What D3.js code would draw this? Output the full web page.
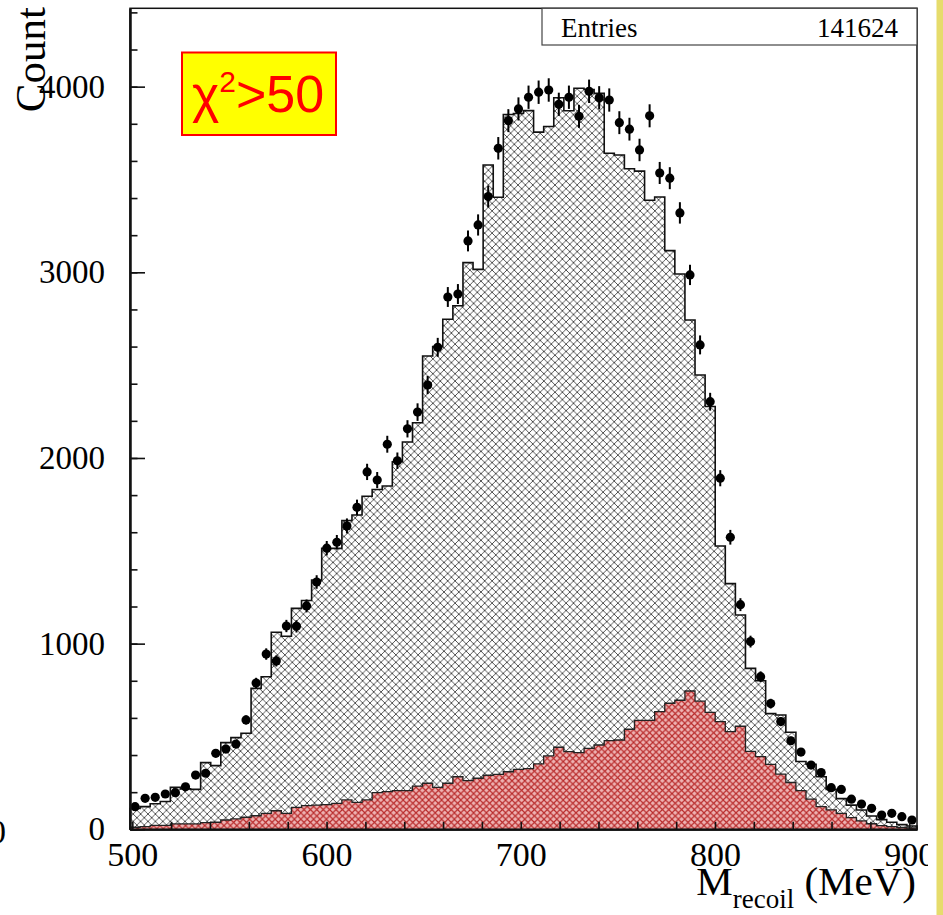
<!DOCTYPE html>
<html>
<head>
<meta charset="utf-8">
<script src="https://cdn.jsdelivr.net/npm/d3@7"></script>
<style>
  html, body { margin: 0; padding: 0; background: #ffffff; }
  svg { display: block; }
</style>
</head>
<body>
<svg id="chart" width="943" height="915"></svg>
<script>
// Recoil-mass histogram: data points vs. total MC (grey hatch) and background MC (red hatch)
const xMin = 498.8, xMax = 904.0;      // histogram range (MeV)
const nBins = 78;
const entries = 141624;

// data counts per bin
const dataCounts = [
  122, 167, 172, 190, 197, 229, 292, 302, 409, 432,
  459, 589, 788, 944, 907, 1095, 1093, 1203, 1332, 1514,
  1546, 1634, 1734, 1925, 1881, 2074, 1985, 2157, 2247, 2393,
  2596, 2867, 2883, 3169, 3255, 3408, 3668, 3817, 3880, 3943,
  3970, 3982, 3905, 3943, 3840, 3975, 3940, 3928, 3806, 3771,
  3659, 3843, 3535, 3507, 3320, 2986, 2609, 2303, 1891, 1573,
  1210, 1011, 822, 677, 580, 477, 416, 346, 306, 224,
  215, 162, 136, 113, 77, 86, 68, 50
];

// total Monte Carlo per bin
const mcTotal = [
  112, 122, 138, 150, 226, 218, 215, 359, 343, 467,
  494, 517, 759, 822, 1061, 1040, 1190, 1232, 1343, 1513,
  1513, 1663, 1693, 1794, 1830, 1849, 1980, 2086, 2190, 2549,
  2600, 2747, 2820, 3052, 3016, 3578, 3404, 3850, 3855, 3871,
  3755, 3785, 3940, 3870, 3991, 3985, 3964, 3641, 3632, 3558,
  3545, 3388, 3406, 3117, 2991, 2743, 2447, 2277, 1526, 1323,
  1154, 867, 800, 623, 616, 523, 365, 350, 283, 215,
  165, 130, 104, 72, 52, 38, 25, 18
];

// background Monte Carlo per bin
const mcBackground = [
  11, 14, 21, 21, 29, 29, 29, 36, 38, 50,
  56, 65, 73, 86, 100, 86, 118, 128, 130, 133,
  140, 158, 145, 158, 197, 203, 208, 208, 233, 248,
  226, 248, 283, 262, 275, 291, 296, 310, 323, 327,
  352, 395, 442, 418, 413, 436, 454, 478, 481, 539,
  587, 587, 634, 679, 695, 745, 690, 630, 580, 526,
  555, 420, 391, 350, 297, 252, 208, 162, 122, 105,
  86, 63, 45, 30, 20, 14, 10, 7
];

const xMajorTicks = [500, 600, 700, 800, 900];
const xMinorTicks = d3.range(500, 901, 20);
const yMajorTicks = [0, 1000, 2000, 3000, 4000];
const yMinorTicks = d3.range(0, 4401, 200);
const yMax = 4422;

const frame = { left: 130, right: 917, top: 8.3, bottom: 829.3 };
const svg = d3.select("#chart");

const x = d3.scaleLinear().domain([xMin, xMax]).range([frame.left, frame.right]);
const y = d3.scaleLinear().domain([0, yMax]).range([frame.bottom, frame.top]);

const binWidth = (xMax - xMin) / nBins;
const edges = d3.range(nBins + 1).map(i => xMin + i * binWidth);
const centers = d3.range(nBins).map(i => xMin + (i + 0.5) * binWidth);

// hatch patterns and the visible page area
const defs = svg.append("defs");
function hatch(id, bg, stroke, size, width) {
  const p = defs.append("pattern")
    .attr("id", id).attr("patternUnits", "userSpaceOnUse")
    .attr("width", size).attr("height", size);
  p.append("rect").attr("width", size).attr("height", size).attr("fill", bg);
  p.append("path")
    .attr("d", `M-1,-1L${size + 1},${size + 1}M${size + 1},-1L-1,${size + 1}`)
    .attr("stroke", stroke).attr("stroke-width", width).attr("fill", "none");
}
hatch("hatchGrey", "#ffffff", "#3a3a3a", 7.4, 0.85);
hatch("hatchRed", "#eeb2b2", "#b82a2a", 6.4, 1.15);
defs.append("clipPath").attr("id", "page")
  .append("rect").attr("x", 0).attr("y", 0).attr("width", 928).attr("height", 915);

// step geometry for a histogram
function stepPoints(vals) {
  const pts = vals.map((v, i) => [edges[i], v]);
  pts.push([edges[nBins], vals[nBins - 1]]);
  return pts;
}
const area = d3.area().curve(d3.curveStepAfter)
  .x(d => x(d[0])).y0(y(0)).y1(d => y(d[1]));
const line = d3.line().curve(d3.curveStepAfter)
  .x(d => x(d[0])).y(d => y(d[1]));
function outline(vals) {
  return [[edges[0], 0]].concat(stepPoints(vals)).concat([[edges[nBins], 0]]);
}

const plot = svg.append("g");

// total MC
plot.append("path").attr("d", area(stepPoints(mcTotal))).attr("fill", "url(#hatchGrey)");
plot.append("path").attr("d", line(outline(mcTotal)))
  .attr("fill", "none").attr("stroke", "#111").attr("stroke-width", 1.6);

// background MC
plot.append("path").attr("d", area(stepPoints(mcBackground))).attr("fill", "url(#hatchRed)");
plot.append("path").attr("d", line(outline(mcBackground)))
  .attr("fill", "none").attr("stroke", "#222").attr("stroke-width", 1.3);

// data points with Poisson error bars
const pts = plot.append("g");
pts.selectAll("line.err").data(dataCounts).join("line")
  .attr("class", "err")
  .attr("x1", (d, i) => x(centers[i])).attr("x2", (d, i) => x(centers[i]))
  .attr("y1", d => y(d - Math.sqrt(d))).attr("y2", d => y(d + Math.sqrt(d)))
  .attr("stroke", "#000").attr("stroke-width", 2);
pts.selectAll("circle").data(dataCounts).join("circle")
  .attr("cx", (d, i) => x(centers[i])).attr("cy", d => y(d))
  .attr("r", 4.6).attr("fill", "#000");

// frame
svg.append("rect")
  .attr("x", frame.left).attr("y", frame.top)
  .attr("width", frame.right - frame.left).attr("height", frame.bottom - frame.top)
  .attr("fill", "none").attr("stroke", "#111").attr("stroke-width", 1.5);

// axes
const serif = "'Liberation Serif', 'Times New Roman', serif";
function styleAxis(g) {
  g.select(".domain").attr("stroke", "#111").attr("stroke-width", 2);
  g.selectAll(".tick line").attr("stroke", "#111").attr("stroke-width", 1.6);
}
const yMinor = svg.append("g").attr("transform", `translate(${frame.left},0)`)
  .call(d3.axisLeft(y).tickValues(yMinorTicks).tickSizeInner(-7.5).tickSizeOuter(0).tickFormat(""));
styleAxis(yMinor);
const yMajor = svg.append("g").attr("transform", `translate(${frame.left},0)`)
  .call(d3.axisLeft(y).tickValues(yMajorTicks).tickSizeInner(-15).tickSizeOuter(0).tickPadding(25).tickFormat(d3.format("d")));
styleAxis(yMajor);
yMajor.selectAll("text").attr("font-family", serif).attr("font-size", 33).attr("fill", "#000");

const xMinor = svg.append("g").attr("transform", `translate(0,${frame.bottom})`)
  .call(d3.axisBottom(x).tickValues(xMinorTicks).tickSizeInner(-7.5).tickSizeOuter(0).tickFormat(""));
styleAxis(xMinor);
const xMajor = svg.append("g").attr("transform", `translate(0,${frame.bottom})`)
  .attr("clip-path", "url(#page)")
  .call(d3.axisBottom(x).tickValues(xMajorTicks).tickSizeInner(-15).tickSizeOuter(0).tickPadding(13).tickFormat(d3.format("d")));
styleAxis(xMajor);
xMajor.selectAll("text").attr("font-family", serif).attr("font-size", 34).attr("fill", "#000");

// axis titles
svg.append("text")
  .attr("transform", "translate(45,7) rotate(-90)")
  .attr("text-anchor", "end")
  .attr("font-family", serif).attr("font-size", 43).attr("fill", "#000")
  .text("Count");

const xt = svg.append("text")
  .attr("x", 916).attr("y", 895).attr("text-anchor", "end")
  .attr("font-family", serif).attr("font-size", 41).attr("fill", "#000");
xt.append("tspan").text("M");
xt.append("tspan").attr("font-size", 27).attr("dy", 13).text("recoil");
xt.append("tspan").attr("dy", -13).text(" (MeV)");

// clipped label from the neighbouring panel
svg.append("text").attr("x", 6).attr("y", 843).attr("text-anchor", "end")
  .attr("font-family", serif).attr("font-size", 34).attr("fill", "#000").text("0");

// right-hand slide strip
svg.append("rect").attr("x", 936.5).attr("y", 0).attr("width", 7).attr("height", 915).attr("fill", "#e6dc6c");

// statistics box
const stats = svg.append("g");
stats.append("rect").attr("x", 542).attr("y", frame.top)
  .attr("width", frame.right - 542).attr("height", 45 - frame.top)
  .attr("fill", "#fff").attr("stroke", "#444").attr("stroke-width", 1.2);
stats.append("text").attr("x", 561).attr("y", 36.5)
  .attr("font-family", serif).attr("font-size", 27).attr("fill", "#000").text("Entries");
stats.append("text").attr("x", 898).attr("y", 36.5).attr("text-anchor", "end")
  .attr("font-family", serif).attr("font-size", 27).attr("fill", "#000").text(entries);

// selection label
const sel = svg.append("g");
sel.append("rect").attr("x", 182).attr("y", 52.5).attr("width", 154).attr("height", 82.5)
  .attr("fill", "#ffff00").attr("stroke", "#ff0000").attr("stroke-width", 2);
const st = sel.append("text").attr("x", 192).attr("y", 112)
  .attr("font-family", "'Liberation Sans', Arial, sans-serif").attr("font-size", 52).attr("fill", "#ff0000");
st.append("tspan").text("χ");
st.append("tspan").attr("font-size", 30).attr("dy", -20).text("2");
st.append("tspan").attr("dy", 20).text(">50");
</script>
</body>
</html>
